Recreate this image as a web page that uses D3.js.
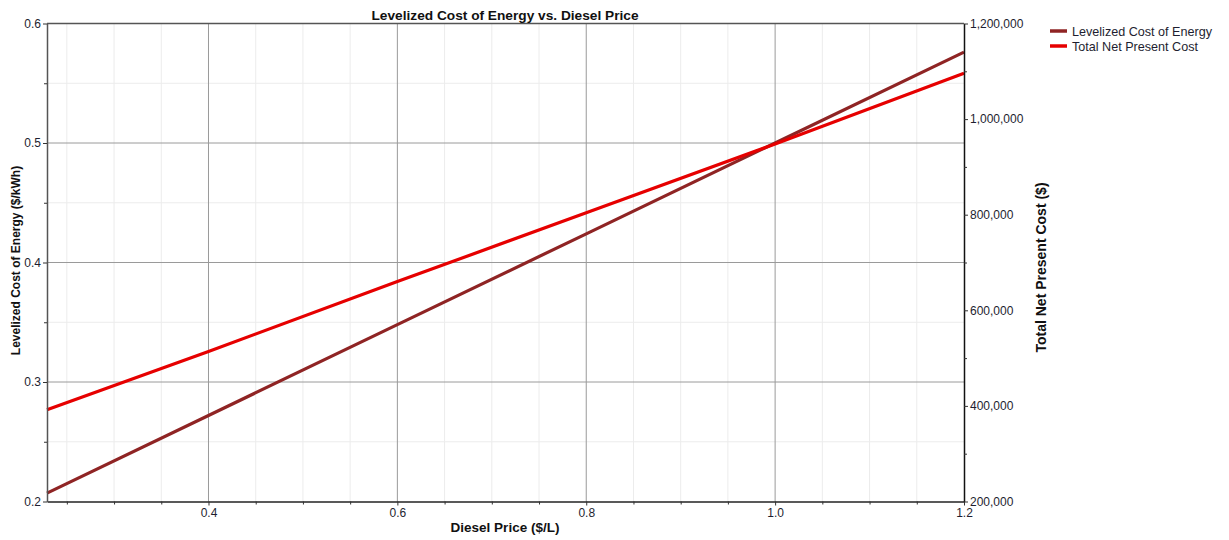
<!DOCTYPE html>
<html>
<head>
<meta charset="utf-8">
<script src="https://cdn.jsdelivr.net/npm/d3@7"></script>
<style>
  html, body { margin: 0; padding: 0; background: #fff; }
  svg { display: block; font-family: Arial, "Liberation Sans", sans-serif; }
</style>
</head>
<body>
<svg id="chart" width="1229" height="540"></svg>
<script>
// ---- data ----
const dieselPrice = [0.229, 0.4, 0.6, 0.8, 1.0, 1.2];
const lcoe = [0.207, 0.272, 0.348, 0.424, 0.5, 0.576];
const npc = [392000, 514000, 660000, 804000, 948000, 1096000];
const seriesNames = ["Levelized Cost of Energy", "Total Net Present Cost"];
const seriesColors = ["#8f2424", "#e60000"];
const xTicks = [0.4, 0.6, 0.8, 1.0, 1.2];
const xMinor = [0.25, 0.3, 0.35, 0.45, 0.5, 0.55, 0.65, 0.7, 0.75, 0.85, 0.9, 0.95, 1.05, 1.1, 1.15];
const yLTicks = [0.2, 0.3, 0.4, 0.5, 0.6];
const yLMinor = [0.25, 0.35, 0.45, 0.55];
const yRTicks = [200000, 400000, 600000, 800000, 1000000, 1200000];
const yRMinor = [300000, 500000, 700000, 900000, 1100000];

// ---- layout ----
const L = 47, R = 964, T = 23.5, B = 501.5;
const svg = d3.select("#chart");
const x = d3.scaleLinear().domain([0.229, 1.2]).range([L, R]);
const yL = d3.scaleLinear().domain([0.2, 0.6]).range([B, T]);
const yR = d3.scaleLinear().domain([200000, 1200000]).range([B, T]);

// grid
const g = svg.append("g");
g.selectAll(".vminor").data(xMinor).enter().append("line")
  .attr("x1", d => x(d)).attr("x2", d => x(d)).attr("y1", T).attr("y2", B)
  .attr("stroke", "#ececec").attr("stroke-width", 1);
g.selectAll(".hminor").data(yLMinor).enter().append("line")
  .attr("x1", L).attr("x2", R).attr("y1", d => yL(d)).attr("y2", d => yL(d))
  .attr("stroke", "#ececec").attr("stroke-width", 1);
g.selectAll(".vmajor").data(xTicks.filter(d => d < 1.2)).enter().append("line")
  .attr("x1", d => x(d)).attr("x2", d => x(d)).attr("y1", T).attr("y2", B)
  .attr("stroke", "#9a9a9a").attr("stroke-width", 1);
g.selectAll(".hmajor").data(yLTicks.filter(d => d > 0.2 && d < 0.6)).enter().append("line")
  .attr("x1", L).attr("x2", R).attr("y1", d => yL(d)).attr("y2", d => yL(d))
  .attr("stroke", "#9a9a9a").attr("stroke-width", 1);

// lines
const lineL = d3.line().x((d, i) => x(dieselPrice[i])).y(d => yL(d));
const lineR = d3.line().x((d, i) => x(dieselPrice[i])).y(d => yR(d));
svg.append("path").datum(lcoe).attr("d", lineL).attr("fill", "none")
  .attr("stroke", seriesColors[0]).attr("stroke-width", 3.2);
svg.append("path").datum(npc).attr("d", lineR).attr("fill", "none")
  .attr("stroke", seriesColors[1]).attr("stroke-width", 3.2);

// frame (top)
svg.append("line").attr("x1", L).attr("x2", R).attr("y1", T).attr("y2", T)
  .attr("stroke", "#555").attr("stroke-width", 1.5);

function styleAxis(sel, color) {
  sel.selectAll("text").attr("font-size", 12).attr("fill", "#1e1e30")
    .attr("font-family", "Arial, 'Liberation Sans', sans-serif");
  sel.select(".domain").attr("stroke", color).attr("stroke-width", 1.5);
  sel.selectAll(".tick line").attr("stroke", "#333");
}

// bottom axis
const xa = svg.append("g").attr("transform", `translate(0,${B})`)
  .call(d3.axisBottom(x).tickValues(xTicks).tickFormat(d3.format(".1f")).tickSize(4).tickPadding(3).tickSizeOuter(0));
styleAxis(xa, "#222");
svg.append("g").attr("transform", `translate(0,${B})`)
  .call(d3.axisBottom(x).tickValues(xMinor).tickFormat("").tickSize(3).tickSizeOuter(0))
  .call(s => { s.select(".domain").remove(); s.selectAll("line").attr("stroke", "#333"); });

// left axis
const yla = svg.append("g").attr("transform", `translate(${L},0)`)
  .call(d3.axisLeft(yL).tickValues(yLTicks).tickFormat(d3.format(".1f")).tickSize(4).tickPadding(2).tickSizeOuter(0));
styleAxis(yla, "#555");
svg.append("g").attr("transform", `translate(${L},0)`)
  .call(d3.axisLeft(yL).tickValues(yLMinor).tickFormat("").tickSize(3).tickSizeOuter(0))
  .call(s => { s.select(".domain").remove(); s.selectAll("line").attr("stroke", "#333"); });

// right axis
const yra = svg.append("g").attr("transform", `translate(${R},0)`)
  .call(d3.axisRight(yR).tickValues(yRTicks).tickFormat(d3.format(",")).tickSize(4).tickPadding(2).tickSizeOuter(0));
styleAxis(yra, "#111");
svg.append("g").attr("transform", `translate(${R},0)`)
  .call(d3.axisRight(yR).tickValues(yRMinor).tickFormat("").tickSize(3).tickSizeOuter(0))
  .call(s => { s.select(".domain").remove(); s.selectAll("line").attr("stroke", "#333"); });

// title & axis labels
svg.append("text").attr("x", 505).attr("y", 19.5).attr("text-anchor", "middle")
  .attr("font-size", 13.7).attr("font-weight", "bold").attr("fill", "#111")
  .text("Levelized Cost of Energy vs. Diesel Price");
svg.append("text").attr("x", 505).attr("y", 532).attr("text-anchor", "middle")
  .attr("font-size", 13.5).attr("font-weight", "bold").attr("fill", "#111")
  .text("Diesel Price ($/L)");
svg.append("text").attr("transform", `translate(19.5,260.5) rotate(-90)`)
  .attr("text-anchor", "middle").attr("font-size", 12).attr("font-weight", "bold").attr("fill", "#111")
  .text("Levelized Cost of Energy ($/kWh)");
svg.append("text").attr("transform", `translate(1045.5,267.5) rotate(-90)`)
  .attr("text-anchor", "middle").attr("font-size", 14).attr("font-weight", "bold").attr("fill", "#111")
  .text("Total Net Present Cost ($)");

// legend
const lg = svg.append("g").attr("transform", "translate(1050,31)");
seriesNames.forEach((name, i) => {
  const row = lg.append("g").attr("transform", `translate(0,${i * 15})`);
  row.append("line").attr("x1", 0).attr("x2", 17).attr("y1", 0).attr("y2", 0)
    .attr("stroke", seriesColors[i]).attr("stroke-width", 3.5);
  row.append("text").attr("x", 22).attr("y", 4.5).attr("font-size", 12.6).attr("fill", "#1e1e30").text(name);
});
</script>
</body>
</html>
